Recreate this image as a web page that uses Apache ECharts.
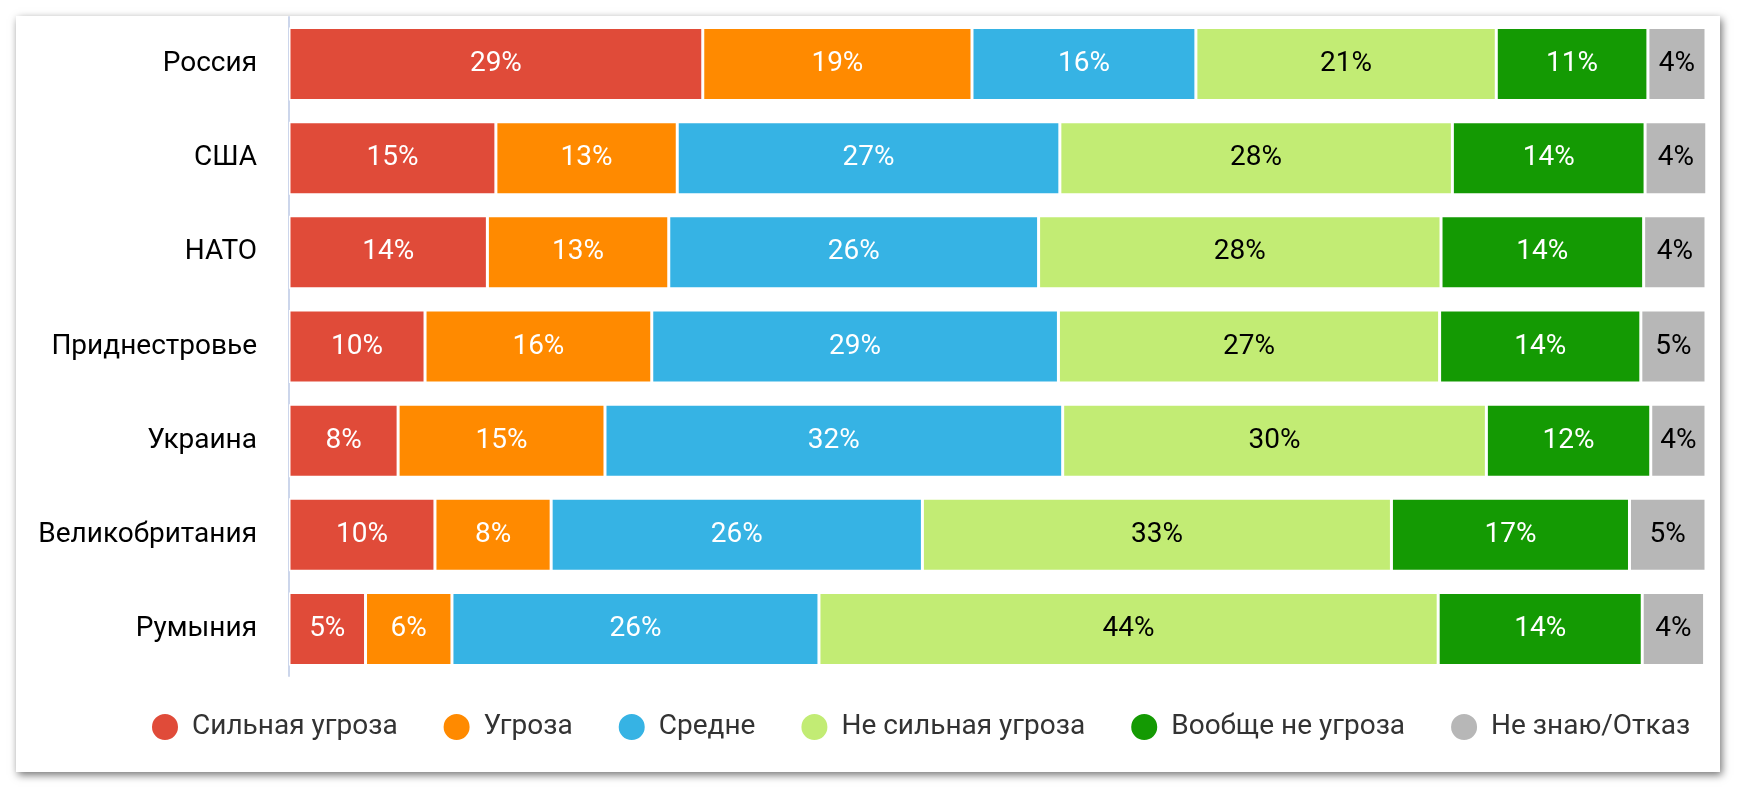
<!DOCTYPE html>
<html>
<head>
<meta charset="utf-8">
<script src="https://cdn.jsdelivr.net/npm/echarts@6/dist/echarts.min.js"></script>
<style>
    html, body { margin: 0; padding: 0; background: #fff; }
    .card {
        position: absolute; left: 16px; top: 16px; width: 1704px; height: 756px;
        background: #fff; box-shadow: 2px 3px 8px rgba(0, 0, 0, 0.55);
    }
    #chart { position: absolute; left: 0; top: 0; width: 1740px; height: 788px; }
</style>
</head>
<body>
<div class="card"></div>
<div id="chart"></div>
<script>
    const categories = ['Россия', 'США', 'НАТО', 'Приднестровье', 'Украина', 'Великобритания', 'Румыния'];
    const seriesNames = ['Сильная угроза', 'Угроза', 'Средне', 'Не сильная угроза', 'Вообще не угроза', 'Не знаю/Отказ'];
    const colors = ['#e04b39', '#ff8a00', '#36b3e4', '#c2ec74', '#149a03', '#b7b7b7'];
    const labelColors = ['#fff', '#fff', '#fff', '#000', '#fff', '#000'];

    // shares per answer, one value per country (in the order of categories)
    const strongThreat = [29.2, 14.6, 14.0, 9.6, 7.7, 10.3, 5.4];
    const threat = [19.0, 12.8, 12.8, 16.0, 14.6, 8.2, 6.1];
    const medium = [15.8, 27.0, 26.1, 28.7, 32.3, 26.2, 25.9];
    const weakThreat = [21.2, 27.7, 28.4, 26.9, 29.9, 33.1, 43.7];
    const noThreat = [10.7, 13.6, 14.3, 14.2, 11.6, 16.8, 14.4];
    const dontKnow = [4.1, 4.4, 4.4, 4.6, 3.9, 5.4, 4.4];

    const allData = [strongThreat, threat, medium, weakThreat, noThreat, dontKnow];

    const chart = echarts.init(document.getElementById('chart'));
    chart.setOption({
        animation: false,
        textStyle: { fontFamily: 'Roboto' },
        grid: { left: 289, right: 34, top: 17, bottom: 112 },
        xAxis: { type: 'value', min: 0, max: 100, show: false },
        yAxis: {
            type: 'category',
            inverse: true,
            data: categories,
            axisLine: { lineStyle: { color: '#ccd6eb', width: 2 } },
            axisTick: { alignWithLabel: true, length: 19, lineStyle: { color: '#ccd6eb', width: 2 } },
            axisLabel: { color: '#000', fontSize: 28, margin: 32 }
        },
        legend: {
            left: 145,
            top: 707,
            icon: 'circle',
            itemWidth: 28,
            itemHeight: 28,
            itemGap: 44,
            data: seriesNames,
            textStyle: { color: '#333', fontSize: 28, padding: [0, 0, 0, 8] }
        },
        series: seriesNames.map((name, i) => ({
            name: name,
            type: 'bar',
            stack: 'total',
            barWidth: 73,
            data: allData[i],
            itemStyle: { color: colors[i], borderColor: '#fff', borderWidth: 1.5 },
            label: {
                show: true,
                position: 'inside',
                color: labelColors[i],
                fontSize: 28,
                formatter: p => Math.round(p.value) + '%'
            }
        }))
    });
</script>
</body>
</html>
